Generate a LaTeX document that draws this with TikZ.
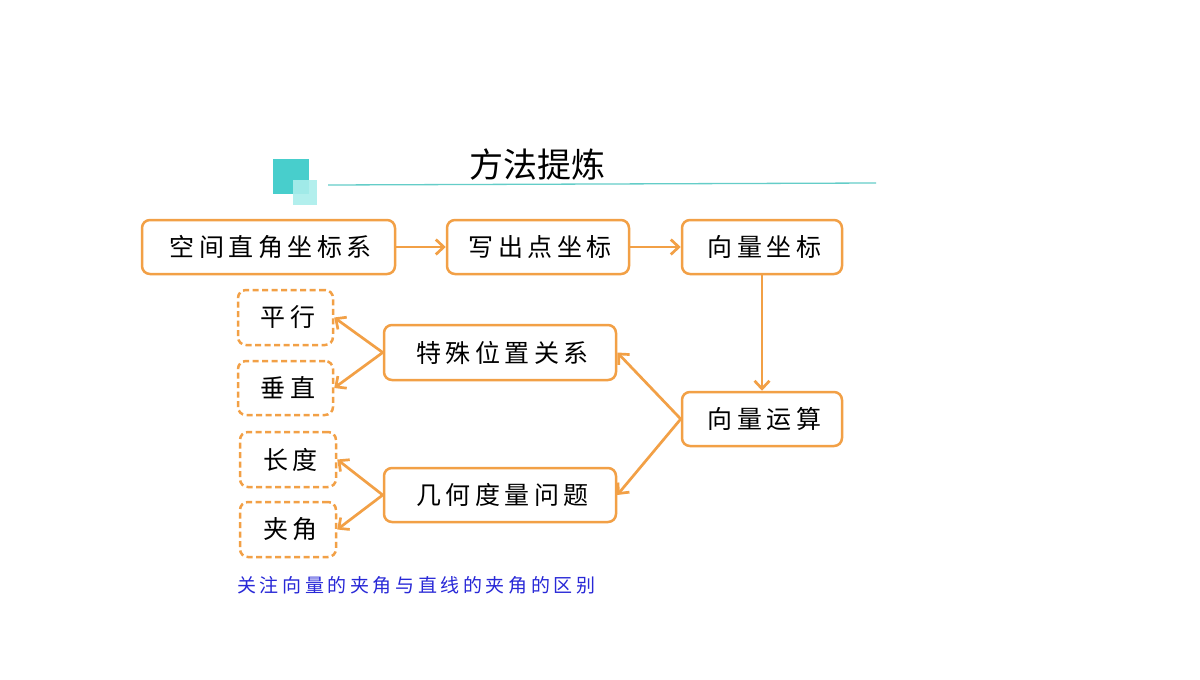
\documentclass[tikz,border=0pt]{standalone}
\usepackage{fontspec}
\usetikzlibrary{arrows.meta}
\newfontfamily\cjk{Noto Sans CJK SC}
\newfontfamily\cjkbox[LetterSpace=18]{Noto Sans CJK SC}
\newfontfamily\cjknote[LetterSpace=19]{Noto Sans CJK SC}
\definecolor{org}{RGB}{242,160,70}
\definecolor{tealA}{RGB}{72,206,204}
\definecolor{tealB}{RGB}{170,238,236}
\definecolor{tealL}{RGB}{100,205,200}
\definecolor{noteblue}{RGB}{40,40,215}
\begin{document}
\begin{tikzpicture}[x=1pt,y=-1pt,
  box/.style={draw=org, line width=2.5pt, rounded corners=8pt, minimum height=54pt, inner sep=0pt, fill=white, font=\cjkbox\fontsize{25}{28}\selectfont, execute at begin node=\kern4.5pt},
  dbox/.style={box, dash pattern=on 6pt off 3.5pt},
  arr/.style={draw=org, line width=2.7pt, -{Straight Barb[length=8pt,width=15pt,line width=2.7pt]}}]
\useasboundingbox (0,0) rectangle (1200,680);
\fill[white] (0,0) rectangle (1200,680);
% title decoration
\fill[tealA] (273,159) rectangle (309,194);
\fill[tealB,opacity=0.9] (293,180) rectangle (317,205);
\draw[tealL, line width=1.3pt] (328,185) -- (876,183);
\node[font=\cjk\fontsize{34}{38}\selectfont] (title) at (537,165) {方法提炼};
% main boxes
\node[box, minimum width=253pt] (kj) at (268.5,247) {空间直角坐标系};
\node[box, minimum width=182pt] (xc) at (538,247) {写出点坐标};
\node[box, minimum width=160pt] (xl) at (762,247) {向量坐标};
\node[box, minimum width=160pt] (ys) at (762,419) {向量运算};
\node[box, minimum width=232pt, minimum height=55pt] (ts) at (500,352.5) {特殊位置关系};
\node[box, minimum width=232pt] (jh) at (500,495) {几何度量问题};
\node[dbox, minimum width=95pt, minimum height=55pt] (px) at (285.5,317.5) {平行};
\node[dbox, minimum width=95pt] (cz) at (285.5,388) {垂直};
\node[dbox, minimum width=96pt, minimum height=55pt] (cd) at (288,459.5) {长度};
\node[dbox, minimum width=96pt, minimum height=55pt] (ja) at (288,529.5) {夹角};
% note
\node[anchor=west, inner sep=0pt, text=noteblue, font=\cjknote\fontsize{19}{22}\selectfont] (note) at (237,585) {关注向量的夹角与直线的夹角的区别};
% connectors
\draw[arr] (kj.east) -- (xc.west);
\draw[arr] (xc.east) -- (xl.west);
\draw[arr] (xl.south) -- (ys.north);
\draw[arr] (ys.west) -- (ts.east);
\draw[arr] (ys.west) -- (jh.east);
\draw[arr] (ts.west) -- (px.east);
\draw[arr] (ts.west) -- (cz.east);
\draw[arr] (jh.west) -- (cd.east);
\draw[arr] (jh.west) -- (ja.east);
\end{tikzpicture}
\end{document}
